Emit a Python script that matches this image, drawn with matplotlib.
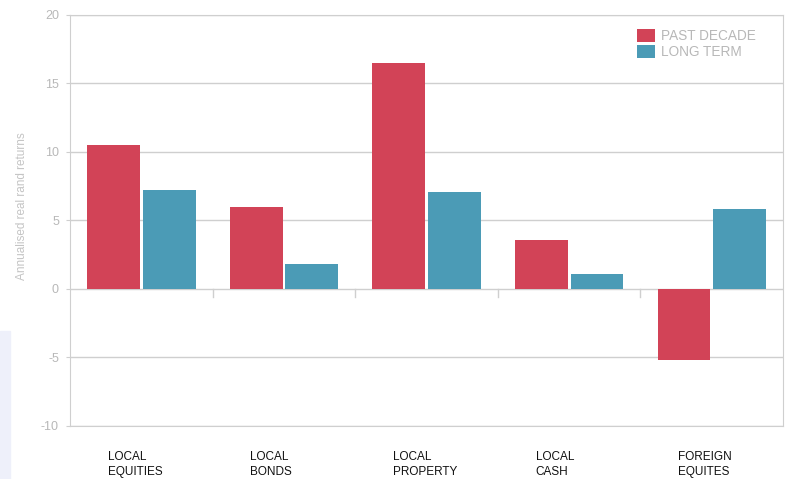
import numpy as np
import matplotlib.pyplot as plt
from matplotlib.patches import Rectangle

categories = ['LOCAL\nEQUITIES', 'LOCAL\nBONDS', 'LOCAL\nPROPERTY', 'LOCAL\nCASH', 'FOREIGN\nEQUITES']
past_decade = [10.5, 6.0, 16.5, 3.6, -5.2]
long_term = [7.2, 1.8, 7.1, 1.1, 5.8]
yticks = [-10, -5, 0, 5, 10, 15, 20]

red = '#D24357'
blue = '#4B9BB6'
grid_c = '#CFCFCF'
text_c = '#B8B8B8'

plt.rcParams['font.family'] = ['Liberation Sans', 'DejaVu Sans']
plt.rcParams['axes.unicode_minus'] = False

fig = plt.figure(figsize=(7.87, 4.79), dpi=100)
ax = fig.add_axes([0.089, 0.111, 0.906, 0.858])

x = np.arange(len(categories))
w = 0.37
ax.bar(x - 0.195, past_decade, w, color=red, label='PAST DECADE', zorder=3)
ax.bar(x + 0.195, long_term, w, color=blue, label='LONG TERM', zorder=3)

ax.set_xlim(-0.5, len(categories) - 0.5)
ax.set_ylim(-10, 20)
ax.set_yticks(yticks)
ax.yaxis.grid(True, color=grid_c, linewidth=1, zorder=0)
ax.tick_params(axis='y', length=3, color=grid_c, labelcolor=text_c, labelsize=9, pad=5)

# category labels, left aligned, sitting near the bottom edge
ax.set_xticks(x - 0.235)
ax.set_xticklabels(categories, fontsize=8.5, ha='left', linespacing=1.3, color='#111111')
ax.tick_params(axis='x', length=0, pad=18)
for s in ax.spines.values():
    s.set_color(grid_c)

# small separators below the zero line
for b in x[:-1] + 0.5:
    ax.plot([b, b], [0, -0.6], color=grid_c, linewidth=1, zorder=2)

ax.set_ylabel('Annualised real rand returns', color='#C4C4C4', fontsize=8.5)
ax.yaxis.set_label_coords(-0.059, 0.535)

leg = ax.legend(loc='upper left', frameon=False, fontsize=9.8, handlelength=1.35,
                handleheight=1.05, handletextpad=0.45, labelspacing=0.15,
                borderpad=0, borderaxespad=0, bbox_to_anchor=(0.795, 0.965))
for t in leg.get_texts():
    t.set_color(text_c)

# faint tint at lower left edge of the source image
fig.patches.append(Rectangle((0, 0), 0.013, 0.31, transform=fig.transFigure,
                             color='#EEF0FA', zorder=0))

fig.savefig('out.png', dpi=100)
